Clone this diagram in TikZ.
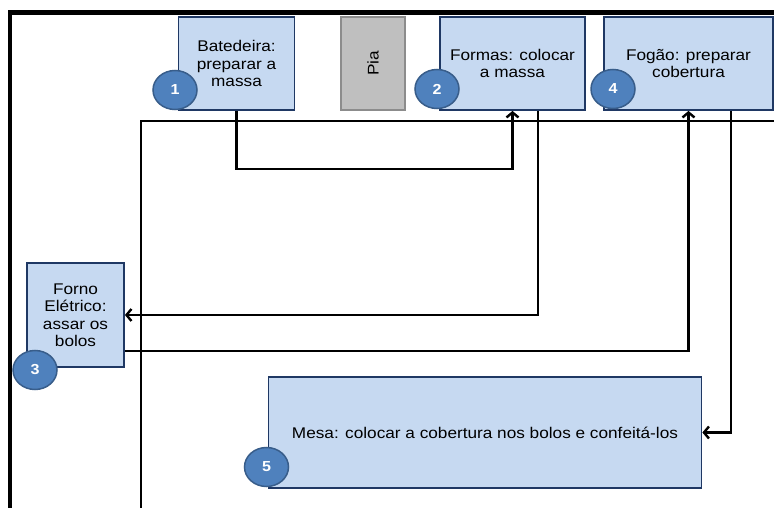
\documentclass[tikz,border=0pt]{standalone}
\usepackage{fontspec}
\setmainfont[FakeStretch=1.11]{Liberation Sans}
\usetikzlibrary{arrows.meta,shapes.geometric}
\definecolor{boxfill}{HTML}{C6D9F1}
\definecolor{boxline}{HTML}{1F3864}
\definecolor{badgefill}{HTML}{4F81BD}
\definecolor{badgeline}{HTML}{385D8A}
\definecolor{sinkfill}{HTML}{BFBFBF}
\definecolor{sinkline}{HTML}{8C8C8C}
\begin{document}
\begin{tikzpicture}[x=1pt,y=-1pt,
  station/.style={draw=boxline,fill=boxfill,line width=1.8pt,align=center,
    inner sep=0pt,font=\fontsize{15.5}{17.5}\selectfont},
  badge/.style={ellipse,draw=badgeline,fill=badgefill,line width=1.5pt,
    minimum width=44pt,minimum height=39pt,inner sep=0pt,text=white,
    font=\fontsize{14.5}{14.5}\selectfont\bfseries},
  sink/.style={draw=sinkline,fill=sinkfill,line width=1.5pt,inner sep=0pt,
    font=\fontsize{15.5}{17.5}\selectfont},
  wall/.style={line width=4.5pt},
  partition/.style={line width=2.8pt},
  flow/.style={line width=2.4pt,-{Straight Barb[length=5pt,width=12pt]}}]
\useasboundingbox (0,0) rectangle (774,508);
\fill[white] (0,0) rectangle (774,508);

% room walls and partition
\draw[wall] (10,508) -- (10,12.5) -- (780,12.5);
\draw[partition] (141,508) -- (141,121) -- (780,121);

% work stations
\node[station,minimum width=116pt,minimum height=93pt] (bat) at (236.5,63.5)
  {Batedeira:\\preparar a\\massa};
\node[sink,rotate=90,minimum width=93pt,minimum height=64pt] (pia) at (373,63.5) {Pia};
\node[station,minimum width=145pt,minimum height=93pt] (form) at (512.5,63.5)
  {Formas: colocar\\a massa};
\node[station,minimum width=169pt,minimum height=93pt] (fogao) at (688.5,63.5)
  {Fogão: preparar\\cobertura};
\node[station,minimum width=97pt,minimum height=104pt] (forno) at (75.5,315)
  {Forno\\Elétrico:\\assar os\\bolos};
\node[station,minimum width=433pt,minimum height=111pt] (mesa) at (485,432.5)
  {Mesa: colocar a cobertura nos bolos e confeitá-los};

% step numbers
\node[badge] (n1) at (175,90) {1};
\node[badge] (n2) at (437,89) {2};
\node[badge] (n4) at (613,89) {4};
\node[badge] (n3) at (35,370) {3};
\node[badge] (n5) at (266.5,467) {5};

% product flow between stations
\draw[flow] (bat.south) -- ++(0,58) -| (form.south);
\draw[flow] ([xshift=25.5pt]form.south) |- (forno.east);
\draw[flow] ([yshift=-36pt]forno.east) -| (fogao.south);
\draw[flow] ([xshift=42.5pt]fogao.south) |- (mesa.east);
\end{tikzpicture}
\end{document}
